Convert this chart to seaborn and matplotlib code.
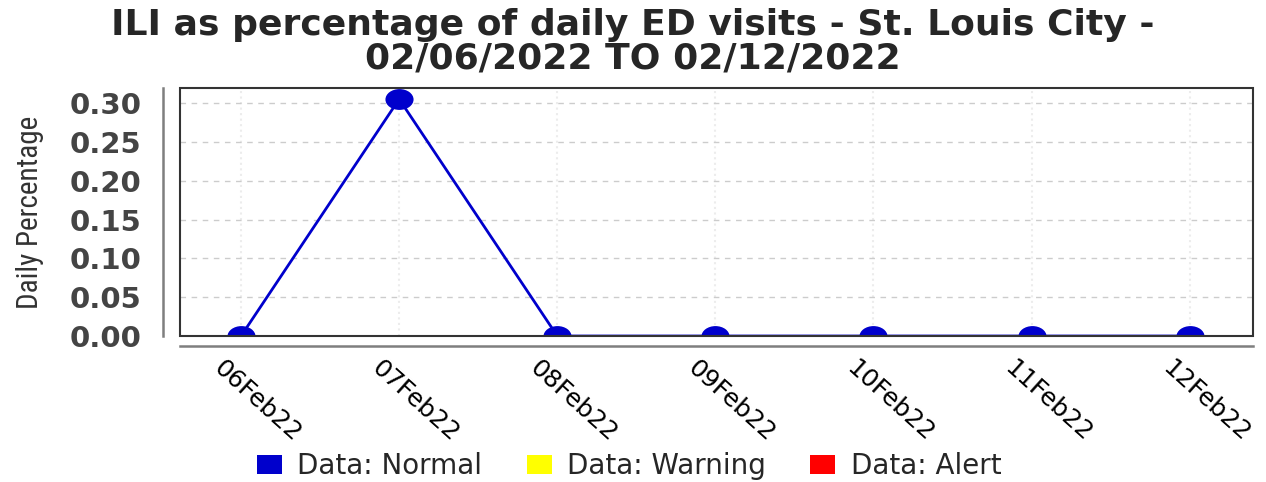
import numpy as np
import pandas as pd
import seaborn as sns
import matplotlib.pyplot as plt
from matplotlib.patches import Patch, Rectangle
from matplotlib.markers import MarkerStyle
from matplotlib.transforms import Affine2D, ScaledTranslation
from matplotlib import font_manager

dates = ["06Feb22", "07Feb22", "08Feb22", "09Feb22", "10Feb22", "11Feb22", "12Feb22"]
pct = [0.0, 0.305, 0.0, 0.0, 0.0, 0.0, 0.0]
y_ticks = [0.00, 0.05, 0.10, 0.15, 0.20, 0.25, 0.30]
status_labels = ["Data: Normal", "Data: Warning", "Data: Alert"]
status_colors = ["#0000cc", "#ffff00", "#ff0000"]
title = "ILI as percentage of daily ED visits - St. Louis City -\n02/06/2022 TO 02/12/2022"

df = pd.DataFrame({"date": dates, "pct": pct})

sns.set_style("white")
plt.rcParams['font.family'] = ['DejaVu Sans']

# pick a narrow face for the y label if one is installed
names = {f.name for f in font_manager.fontManager.ttflist}
narrow = next((n for n in ["Liberation Sans Narrow", "DejaVu Sans Condensed", "Roboto Condensed"]
               if n in names), "DejaVu Sans")

fig = plt.figure(figsize=(12.66, 4.82), dpi=100)
ax = fig.add_axes([0.1422, 0.3029, 0.8475, 0.5145])

# wide dots, like the stretched original
dot = MarkerStyle('o', transform=Affine2D().scale(1.35, 1.0))
sns.lineplot(data=df, x="date", y="pct", ax=ax, color="#0000cc", linewidth=2,
             marker=dot, markersize=15, markeredgewidth=0, sort=False, zorder=5)

ax.set_xlim(-0.386, 6.4)
ax.set_ylim(0, 0.3193)
ax.set_yticks(y_ticks)
ax.set_yticklabels([f"{v:.2f}" for v in y_ticks])

ax.yaxis.grid(True, linestyle=(0, (4, 4)), color="#cccccc", linewidth=1)
ax.xaxis.grid(True, linestyle=":", color="#ececec", linewidth=1.5)
ax.set_axisbelow(True)

for s in ["left", "bottom"]:
    ax.spines[s].set_color("#7f7f7f")
    ax.spines[s].set_linewidth(1.8)
ax.spines["left"].set_position(("outward", 12))
ax.spines["bottom"].set_position(("outward", 7))
for s in ["top", "right"]:
    ax.spines[s].set_visible(False)
ax.add_patch(Rectangle((0, 0), 1, 1, transform=ax.transAxes, fill=False,
                       edgecolor="#333333", linewidth=1.5, clip_on=False, zorder=6))

ax.tick_params(axis="y", length=4, width=1.5, color="#7f7f7f", pad=12,
               labelsize=21, labelcolor="#444444")
ax.tick_params(axis="x", length=4, width=1.5, color="#7f7f7f", pad=4,
               labelsize=18, labelcolor="black")
for t in ax.get_yticklabels():
    t.set_fontweight("bold")
shift = ScaledTranslation(-0.24, -0.08, fig.dpi_scale_trans)
for t in ax.get_xticklabels():
    t.set_rotation(-42)
    t.set_ha("left")
    t.set_va("center")
    t.set_rotation_mode("anchor")
    t.set_transform(t.get_transform() + shift)

ax.set_xlabel("")
ax.set_ylabel("Daily Percentage", family=[narrow, "DejaVu Sans"],
              fontsize=21 if narrow != "DejaVu Sans" else 17, color="#333333", labelpad=18)

fig.suptitle(title, x=0.5, y=0.984, fontsize=26, fontweight="bold", linespacing=0.98)

handles = [Patch(facecolor=c, edgecolor="none") for c in status_colors]
fig.legend(handles, status_labels, loc="center", bbox_to_anchor=(0.497, 0.033), ncol=3,
           frameon=False, handlelength=0.9, handleheight=0.7, handletextpad=0.55,
           columnspacing=1.6, fontsize=20)

fig.savefig("out.png", dpi=100)
